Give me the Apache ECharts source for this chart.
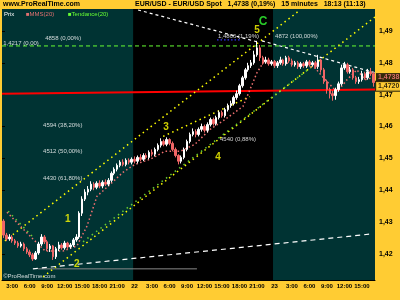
<!DOCTYPE html>
<html>
<head>
<meta charset="utf-8">
<script src="https://cdn.jsdelivr.net/npm/echarts@6.0.0/dist/echarts.min.js"></script>
<style>
  html, body { margin: 0; padding: 0; background: #ffcc33; }
  #chart { width: 400px; height: 300px; }
</style>
</head>
<body>
<div id="chart"></div>
<script>
// EUR/USD 30 min candles, 21 Jan 1:30 -> 23 Jan 17:00
var firstOpen = 1.4303;
var close = [
  1.4259, 1.4247, 1.4253, 1.4241, 1.4234, 1.4225, 1.4231, 1.4216, 1.4206, 1.4197,
  1.4184, 1.4203, 1.4231, 1.4253, 1.4238, 1.4216, 1.4225, 1.4191, 1.4216, 1.4228,
  1.4219, 1.4234, 1.4222, 1.4228, 1.4244, 1.4253, 1.4328, 1.4372, 1.4394, 1.4403,
  1.4419, 1.4409, 1.4422, 1.4413, 1.4425, 1.4419, 1.4431, 1.4453, 1.4466, 1.4478,
  1.4488, 1.4481, 1.4494, 1.4488, 1.4497, 1.4491, 1.4503, 1.4497, 1.4509, 1.4503,
  1.4519, 1.4513, 1.4528, 1.4541, 1.4553, 1.4544, 1.4559, 1.4547, 1.4528, 1.4509,
  1.4491, 1.4503, 1.4528, 1.4553, 1.4575, 1.4584, 1.4575, 1.4591, 1.4600, 1.4588,
  1.4606, 1.4622, 1.4609, 1.4628, 1.4644, 1.4634, 1.4653, 1.4666, 1.4672, 1.4691,
  1.4703, 1.4728, 1.4753, 1.4778, 1.4791, 1.4800, 1.4825, 1.4847, 1.4816, 1.4803,
  1.4809, 1.4797, 1.4803, 1.4791, 1.4800, 1.4809, 1.4797, 1.4816, 1.4806, 1.4794,
  1.4800, 1.4788, 1.4797, 1.4791, 1.4803, 1.4794, 1.4800, 1.4788, 1.4809, 1.4778,
  1.4741, 1.4716, 1.4703, 1.4697, 1.4716, 1.4734, 1.4784, 1.4794, 1.4772, 1.4778,
  1.4753, 1.4741, 1.4747, 1.4766, 1.4753, 1.4772, 1.4766, 1.4738
];
var high = [
  1.4309, 1.4266, 1.4262, 1.4259, 1.4247, 1.4240, 1.4238, 1.4236, 1.4222, 1.4213,
  1.4203, 1.4209, 1.4238, 1.4262, 1.4259, 1.4244, 1.4231, 1.4228, 1.4222, 1.4238,
  1.4234, 1.4241, 1.4238, 1.4234, 1.4250, 1.4262, 1.4334, 1.4381, 1.4403, 1.4413,
  1.4428, 1.4425, 1.4428, 1.4431, 1.4431, 1.4434, 1.4438, 1.4459, 1.4472, 1.4484,
  1.4494, 1.4497, 1.4500, 1.4500, 1.4503, 1.4506, 1.4509, 1.4513, 1.4516, 1.4516,
  1.4525, 1.4528, 1.4534, 1.4547, 1.4563, 1.4559, 1.4566, 1.4563, 1.4553, 1.4534,
  1.4513, 1.4509, 1.4534, 1.4559, 1.4581, 1.4594, 1.4591, 1.4597, 1.4609, 1.4606,
  1.4613, 1.4628, 1.4628, 1.4634, 1.4650, 1.4650, 1.4659, 1.4672, 1.4681, 1.4697,
  1.4713, 1.4734, 1.4759, 1.4784, 1.4800, 1.4809, 1.4838, 1.4869, 1.4856, 1.4822,
  1.4819, 1.4816, 1.4809, 1.4809, 1.4806, 1.4819, 1.4813, 1.4822, 1.4822, 1.4813,
  1.4806, 1.4806, 1.4803, 1.4803, 1.4809, 1.4809, 1.4806, 1.4806, 1.4825, 1.4813,
  1.4784, 1.4747, 1.4722, 1.4713, 1.4722, 1.4741, 1.4794, 1.4803, 1.4800, 1.4788,
  1.4784, 1.4759, 1.4756, 1.4775, 1.4772, 1.4781, 1.4784, 1.4772
];
var low = [
  1.4250, 1.4240, 1.4241, 1.4235, 1.4228, 1.4219, 1.4220, 1.4209, 1.4200, 1.4190,
  1.4178, 1.4181, 1.4197, 1.4225, 1.4231, 1.4209, 1.4206, 1.4181, 1.4184, 1.4209,
  1.4213, 1.4213, 1.4216, 1.4216, 1.4222, 1.4238, 1.4247, 1.4319, 1.4366, 1.4384,
  1.4397, 1.4400, 1.4403, 1.4406, 1.4406, 1.4413, 1.4413, 1.4425, 1.4447, 1.4459,
  1.4472, 1.4475, 1.4475, 1.4481, 1.4481, 1.4484, 1.4484, 1.4491, 1.4491, 1.4497,
  1.4497, 1.4506, 1.4506, 1.4522, 1.4534, 1.4538, 1.4538, 1.4541, 1.4522, 1.4503,
  1.4481, 1.4484, 1.4497, 1.4522, 1.4547, 1.4569, 1.4566, 1.4569, 1.4584, 1.4581,
  1.4581, 1.4600, 1.4603, 1.4603, 1.4622, 1.4628, 1.4628, 1.4647, 1.4659, 1.4666,
  1.4684, 1.4697, 1.4722, 1.4747, 1.4772, 1.4784, 1.4794, 1.4819, 1.4806, 1.4794,
  1.4797, 1.4791, 1.4791, 1.4784, 1.4784, 1.4794, 1.4791, 1.4791, 1.4800, 1.4788,
  1.4788, 1.4781, 1.4781, 1.4784, 1.4784, 1.4788, 1.4788, 1.4781, 1.4781, 1.4769,
  1.4734, 1.4703, 1.4688, 1.4681, 1.4684, 1.4709, 1.4728, 1.4778, 1.4766, 1.4766,
  1.4747, 1.4734, 1.4734, 1.4741, 1.4747, 1.4747, 1.4759, 1.4725
];

var xTickIdx = [3, 9, 15, 21, 27, 33, 39, 45, 51, 57, 63, 69, 75, 81, 87, 93, 99, 105, 111, 117, 123];
var xTickLabels = ['3:00', '6:00', '9:00', '12:00', '15:00', '18:00', '21:00', '22',
  '3:00', '6:00', '9:00', '12:00', '15:00', '18:00', '21:00', '23',
  '3:00', '6:00', '9:00', '12:00', '15:00'];
var yTicks = [1.42, 1.43, 1.44, 1.45, 1.46, 1.47, 1.48, 1.49];

// day 22 session (black background), in candle units
var day22 = [45, 93];

// moving average (pink dots)
var maLine = [[1.7, 1.4331], [6.2, 1.4288], [10.6, 1.4247], [14.8, 1.4209], [20.9, 1.4209],
  [25.7, 1.4225], [29.2, 1.4288], [32.6, 1.4381], [36.0, 1.4409], [41.5, 1.4456],
  [45.6, 1.4481], [50.8, 1.4497], [55.9, 1.4522], [61.1, 1.4522], [66.2, 1.4544],
  [71.4, 1.4591], [76.5, 1.4622], [82.7, 1.4663], [85.1, 1.4716], [87.5, 1.4769],
  [89.6, 1.4800], [93.7, 1.4803], [102.3, 1.4794], [107.4, 1.4784], [111.5, 1.4741],
  [115.0, 1.4709], [118.4, 1.4747], [121.8, 1.4778], [124.6, 1.4747], [127.0, 1.4753]];

// drawn lines
var chanUpper = [[1.0, 1.4241], [102.3, 1.4966]];
var chanLower = [[14.1, 1.4128], [128, 1.4944]];
var wave3Line = [[55.3, 1.4569], [85.1, 1.4694]];
var greenDown = [[2.1, 1.4334], [10.6, 1.4253]];
var greenUp = [[27.8, 1.4238], [108.1, 1.4800]];
var whiteLow = [[10.6, 1.4153], [127.3, 1.4263]];
var whiteTop = [[46.7, 1.4966], [87.5, 1.4866]];
var whiteRight = [[89.2, 1.4869], [128, 1.4769]];
var greyLine = [[12.4, 1.4153], [66.9, 1.4153]];
var redLine = [[0, 1.4703], [128, 1.4716]];
var fibTop = [[0, 1.4853], [128, 1.4853]];
var blueLine = [[73.8, 1.4872], [81.7, 1.4872]];

var waveLabels = [[22.6, 1.4309, '1'], [25.7, 1.4166, '2'], [56.3, 1.4597, '3'],
  [74.1, 1.4503, '4'], [87.5, 1.4903, '5']];
var waveC = [[89.6, 1.4928, 'C']];
var notes = [[0.4, 1.4862, '1,4217 (0,00)'], [14.8, 1.4878, '4858 (0,00%)'],
  [14.1, 1.4603, '4594 (38,20%)'], [14.1, 1.4522, '4512 (50,00%)'],
  [14.1, 1.4438, '4430 (61,80%)'], [74.1, 1.4884, '1,4866 (1,19%)'],
  [93.7, 1.4884, '4872 (100,00%)'], [74.8, 1.4559, '4540 (0,88%)'],
  [0.4, 1.4128, '\u00a9ProRealTime.com']];
var lastPrice = 1.4738;
var maPrice = 1.4720;

var font = 'Liberation Sans';
var cats = [];
var candles = [];
for (var i = 0; i < close.length; i++) {
  cats.push(String(i));
  var o = i === 0 ? firstOpen : close[i - 1];
  candles.push([o, close[i], low[i], high[i]]);
}

function fmt(v) { return v.toFixed(2).replace('.', ','); }
function fmt4(v) { return v.toFixed(4).replace('.', ','); }

function seg(data, color, type, width) {
  return {
    type: 'line', xAxisIndex: 1, data: data, symbol: 'none', silent: true, z: 3,
    lineStyle: { color: color, type: type, width: width || 1 }
  };
}

function textSeries(data, color, size, bold) {
  return {
    type: 'scatter', xAxisIndex: 1, data: data, symbolSize: 0, silent: true, z: 6,
    label: {
      show: true, position: 'inside', color: color, fontSize: size, fontFamily: font,
      fontWeight: bold ? 'bold' : 'normal',
      formatter: function (p) { return p.data[2]; }
    }
  };
}

function priceTag(price, color, bg, border, dy) {
  return {
    type: 'scatter', xAxisIndex: 1, data: [[128, price]], symbolSize: 0, silent: true, z: 8,
    clip: false,
    label: {
      show: true, position: 'right', distance: 1, offset: [0, dy],
      formatter: fmt4(price), color: color, backgroundColor: bg,
      borderColor: border, borderWidth: border ? 1 : 0,
      fontSize: 7, fontWeight: 'bold', fontFamily: font, padding: [1, 2]
    }
  };
}

var chart = echarts.init(document.getElementById('chart'));
chart.setOption({
  animation: false,
  backgroundColor: '#ffcc33',
  grid: { left: 2, right: 25, top: 9, bottom: 20, show: true, backgroundColor: '#003333', borderWidth: 0 },
  xAxis: [{
    type: 'category', data: cats, boundaryGap: true,
    axisLine: { lineStyle: { color: '#000', width: 1 } },
    axisTick: { interval: function (idx) { return xTickIdx.indexOf(idx) >= 0; }, length: 3, lineStyle: { color: '#000' } },
    axisLabel: {
      interval: function (idx) { return xTickIdx.indexOf(idx) >= 0; },
      formatter: function (v, idx) { var k = xTickIdx.indexOf(idx); return k >= 0 ? xTickLabels[k] : ''; },
      color: '#000', fontSize: 6, fontWeight: 'bold', fontFamily: font, margin: 3, hideOverlap: false
    },
    splitLine: { show: false }
  }, {
    type: 'value', min: 0, max: 128, show: false
  }],
  yAxis: {
    type: 'value', position: 'right', min: 1.4118, max: 1.4969, scale: true,
    axisLine: { show: false },
    axisTick: { show: true, customValues: yTicks, length: 3, lineStyle: { color: '#000' } },
    axisLabel: {
      customValues: yTicks, formatter: fmt, color: '#000', fontSize: 7,
      fontWeight: 'bold', fontFamily: font, margin: 4
    },
    splitLine: { show: false }
  },
  graphic: [
    { type: 'text', left: 3, top: 1, style: { text: 'www.ProRealTime.com', fill: '#000', font: 'bold 7px ' + font } },
    { type: 'text', left: 135, top: 1, style: { text: 'EUR/USD - EUR/USD Spot   1,4738 (0,19%)   15 minutes   18:13 (11:13)', fill: '#000', font: 'bold 7px ' + font } },
    { type: 'text', left: 4, top: 11, style: { text: 'Prix', fill: '#fff', font: '6px ' + font } },
    { type: 'text', left: 26, top: 11, style: { text: '\u25a0MMS(20)', fill: '#e07070', font: '6px ' + font } },
    { type: 'text', left: 68, top: 11, style: { text: '\u25a0Tendance(20)', fill: '#66ff33', font: '6px ' + font } }
  ],
  series: [
    {
      type: 'line', xAxisIndex: 1, data: [[0, 1.45]], symbol: 'none', silent: true, z: 0,
      lineStyle: { width: 0 },
      markArea: { silent: true, itemStyle: { color: '#000' }, data: [[{ xAxis: day22[0] }, { xAxis: day22[1] }]] }
    },
    seg(fibTop, '#66ff33', [4, 3], 1),
    seg(redLine, '#ff0000', 'solid', 2),
    seg(greyLine, '#888888', 'solid', 1),
    seg(chanUpper, '#ffff00', [1.5, 3.5], 1.5),
    seg(chanLower, '#ffff00', [1.5, 3.5], 1.5),
    seg(wave3Line, '#ffff00', [1.5, 3.5], 1.5),
    seg(greenDown, '#66cc33', [1.5, 4], 1.5),
    seg(greenUp, '#66cc33', [1.5, 4], 1.5),
    seg(whiteLow, '#ffffff', [5, 4], 1.2),
    seg(whiteTop, '#ffffff', [3, 3], 1.2),
    seg(whiteRight, '#ffffff', [3, 3], 1.2),
    seg(blueLine, '#3333ff', [1.5, 2], 1.2),
    seg(maLine, '#f07070', [1.5, 2.5], 1.5),
    {
      type: 'candlestick', xAxisIndex: 0, data: candles, barWidth: 2, z: 5,
      itemStyle: { color: '#ffffff', color0: '#f06666', borderColor: '#ffffff', borderColor0: '#f06666', borderWidth: 1 }
    },
    priceTag(lastPrice, '#ff8080', '#000', null, -5),
    priceTag(maPrice, '#000', '#ffcc33', '#000', -2),
    textSeries(waveLabels, '#ffff00', 10, true),
    textSeries(waveC, '#33ff33', 12, true),
    {
      type: 'scatter', xAxisIndex: 1, data: notes, symbolSize: 0, silent: true, z: 6,
      label: { show: true, position: 'right', distance: 0, color: '#fff', fontSize: 6, fontFamily: font, formatter: function (p) { return p.data[2]; } }
    }
  ]
});
</script>
</body>
</html>
